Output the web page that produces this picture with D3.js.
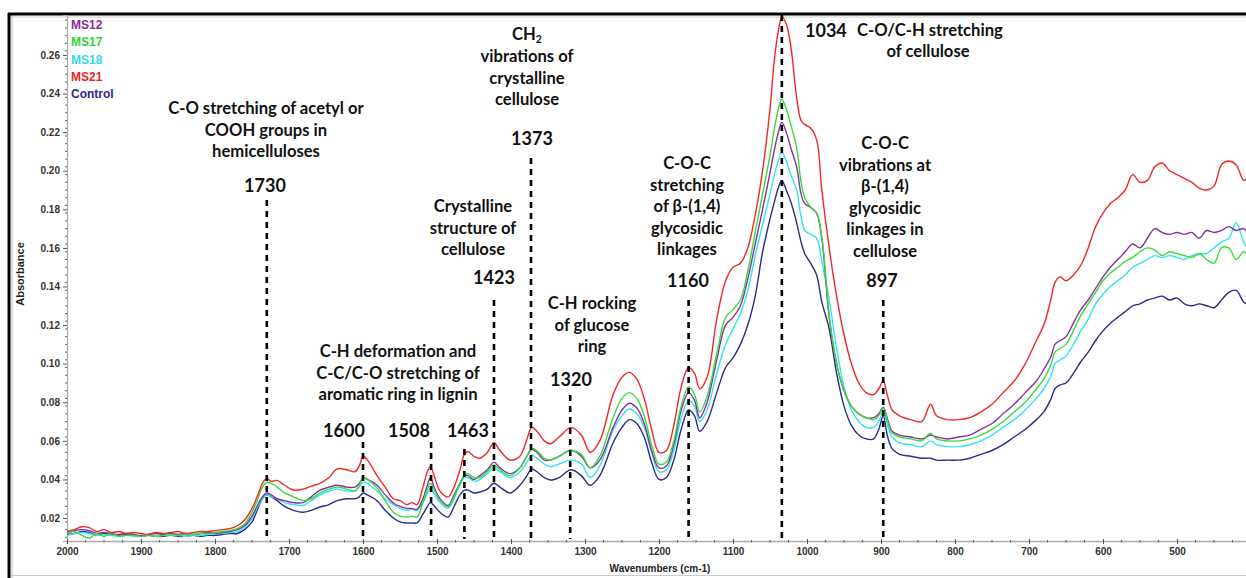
<!DOCTYPE html>
<html><head><meta charset="utf-8">
<script src="https://cdn.jsdelivr.net/npm/d3@7"></script>
<style>
html,body{margin:0;padding:0;background:#fff;overflow:hidden;}
svg{display:block;}
</style></head><body>
<svg id="chart" width="1246" height="578"></svg>
<script>
// ---------- DATA ----------
const wavenumbers = [
 2000,1990,1980,1970,1960,1950,1940,1930,1920,1910,1900,1890,1880,1870,1860,1850,1840,1830,1820,1810,1800,1790,1780,
 1770,1760,1750,1742,1736,1730,1724,1716,1706,1694,
 1681,1670,1658,1646,1635,1622,1611,1605,1600,1594,
 1581,1570,1559,1550,1541,1534,1527,1519,1513,1509,
 1503,1496,1485,1477,1469,1463,1458,1450,1442,1432,
 1423,1415,1401,1388,1380,1372,1365,1355,1347,1335,
 1319,1305,1293,1280,1262,1250,1240,1230,1220,1210,
 1200,1190,1180,1170,1160,1152,1145,1135,1122,1110,
 1100,1090,1080,1070,1060,1050,1044,1038,1034,1028,
 1022,1014,1008,1003,995,987,980,970,960,950,
 940,930,920,910,903,897,891,885,875,860,
 845,833,825,810,795,780,765,750,735,720,
 705,690,680,670,665,658,650,640,630,620,
 610,600,590,580,570,560,550,540,530,520,
 510,500,490,480,470,460,450,440,430,420,
 410,405];

const ms21 = [
 0.013,0.014,0.0155,0.015,0.013,0.014,0.0125,0.013,0.012,0.0125,0.012,0.0115,0.0125,0.012,0.0125,0.013,0.012,0.0125,0.013,0.013,0.0135,0.014,0.0145,
 0.016,0.019,0.025,0.032,0.038,0.0405,0.039,0.0395,0.037,0.0345,
 0.035,0.0365,0.038,0.041,0.0455,0.045,0.044,0.047,0.052,0.050,
 0.042,0.036,0.030,0.029,0.027,0.028,0.027,0.036,0.044,0.0465,
 0.041,0.034,0.031,0.036,0.045,0.053,0.0545,0.052,0.051,0.054,
 0.059,0.055,0.050,0.052,0.059,0.067,0.065,0.060,0.0585,0.062,
 0.067,0.063,0.054,0.060,0.084,0.093,0.0955,0.092,0.082,0.066,
 0.054,0.055,0.068,0.088,0.098,0.095,0.087,0.093,0.123,0.143,
 0.150,0.152,0.160,0.177,0.200,0.232,0.258,0.274,0.280,0.276,
 0.265,0.238,0.226,0.224,0.222,0.216,0.190,0.160,0.135,0.115,
 0.100,0.090,0.085,0.084,0.087,0.091,0.083,0.076,0.073,0.071,
 0.070,0.079,0.073,0.071,0.071,0.072,0.075,0.079,0.085,0.091,
 0.100,0.112,0.120,0.134,0.142,0.145,0.143,0.146,0.151,0.160,
 0.171,0.178,0.183,0.186,0.190,0.198,0.194,0.195,0.202,0.204,
 0.200,0.198,0.196,0.194,0.191,0.190,0.192,0.203,0.205,0.203,
 0.195,0.196];

const ms12 = [
 0.012,0.0135,0.014,0.0135,0.012,0.0125,0.012,0.0115,0.012,0.0115,0.011,0.0115,0.012,0.0115,0.012,0.0115,0.012,0.0115,0.012,0.0125,0.012,0.0125,0.013,
 0.014,0.016,0.021,0.027,0.031,0.033,0.032,0.030,0.029,0.028,
 0.028,0.031,0.0345,0.036,0.037,0.036,0.036,0.038,0.0407,0.040,
 0.037,0.032,0.0278,0.026,0.025,0.025,0.0245,0.030,0.037,0.041,
 0.035,0.030,0.0265,0.032,0.038,0.042,0.042,0.040,0.042,0.045,
 0.049,0.046,0.043,0.046,0.051,0.0555,0.054,0.050,0.050,0.052,
 0.0552,0.052,0.046,0.050,0.067,0.076,0.0795,0.077,0.069,0.055,
 0.046,0.047,0.058,0.076,0.085,0.081,0.072,0.080,0.102,0.120,
 0.124,0.130,0.144,0.162,0.180,0.199,0.211,0.221,0.225,0.220,
 0.212,0.202,0.188,0.183,0.181,0.178,0.165,0.124,0.100,0.086,
 0.078,0.074,0.072,0.072,0.074,0.0775,0.071,0.065,0.063,0.062,
 0.061,0.063,0.062,0.061,0.062,0.063,0.066,0.069,0.074,0.079,
 0.085,0.091,0.097,0.104,0.110,0.112,0.114,0.121,0.128,0.133,
 0.139,0.145,0.150,0.154,0.158,0.162,0.160,0.165,0.170,0.168,
 0.167,0.168,0.167,0.168,0.165,0.169,0.168,0.169,0.171,0.169,
 0.170,0.168];

const ms17 = [
 0.012,0.013,0.011,0.0095,0.012,0.0105,0.012,0.0105,0.011,0.011,0.0105,0.011,0.0105,0.011,0.0115,0.011,0.0115,0.0115,0.012,0.012,0.0125,0.013,0.0135,
 0.0145,0.017,0.023,0.030,0.036,0.0385,0.038,0.036,0.033,0.031,
 0.029,0.030,0.033,0.035,0.036,0.035,0.034,0.037,0.041,0.040,
 0.0355,0.029,0.023,0.021,0.0205,0.021,0.0205,0.028,0.035,0.038,
 0.034,0.029,0.0257,0.031,0.038,0.042,0.043,0.041,0.041,0.044,
 0.0475,0.045,0.042,0.046,0.051,0.056,0.055,0.051,0.050,0.052,
 0.055,0.053,0.046,0.052,0.072,0.082,0.085,0.082,0.073,0.058,
 0.048,0.049,0.060,0.078,0.088,0.084,0.075,0.083,0.105,0.124,
 0.128,0.133,0.148,0.168,0.188,0.208,0.222,0.233,0.237,0.232,
 0.224,0.212,0.194,0.186,0.181,0.178,0.166,0.125,0.100,0.086,
 0.078,0.074,0.072,0.071,0.073,0.077,0.070,0.064,0.062,0.061,
 0.060,0.064,0.061,0.060,0.060,0.061,0.063,0.066,0.070,0.075,
 0.080,0.087,0.092,0.100,0.106,0.108,0.110,0.117,0.125,0.131,
 0.137,0.143,0.147,0.150,0.153,0.155,0.158,0.160,0.159,0.156,
 0.158,0.157,0.156,0.155,0.157,0.154,0.152,0.160,0.160,0.154,
 0.158,0.156];

const ms18 = [
 0.011,0.012,0.0125,0.012,0.011,0.0115,0.011,0.0105,0.011,0.0105,0.0105,0.011,0.0105,0.011,0.011,0.011,0.0105,0.011,0.011,0.0115,0.012,0.012,0.0125,
 0.013,0.015,0.020,0.026,0.030,0.032,0.031,0.030,0.028,0.027,
 0.0265,0.029,0.032,0.034,0.035,0.034,0.034,0.036,0.0387,0.038,
 0.034,0.030,0.027,0.025,0.024,0.0245,0.024,0.028,0.033,0.0356,
 0.032,0.028,0.025,0.030,0.037,0.041,0.041,0.039,0.040,0.043,
 0.046,0.044,0.041,0.044,0.048,0.0526,0.051,0.048,0.0466,0.048,
 0.050,0.048,0.041,0.047,0.0656,0.073,0.0765,0.074,0.067,0.054,
 0.044,0.045,0.055,0.072,0.081,0.078,0.070,0.076,0.095,0.110,
 0.118,0.126,0.138,0.156,0.172,0.188,0.198,0.206,0.2096,0.205,
 0.198,0.190,0.176,0.169,0.167,0.165,0.153,0.133,0.108,0.088,
 0.076,0.070,0.067,0.067,0.070,0.075,0.068,0.062,0.059,0.058,
 0.057,0.060,0.058,0.057,0.057,0.058,0.060,0.063,0.067,0.071,
 0.076,0.082,0.087,0.094,0.100,0.102,0.104,0.110,0.117,0.123,
 0.131,0.136,0.140,0.143,0.146,0.150,0.152,0.154,0.156,0.155,
 0.156,0.155,0.154,0.156,0.157,0.157,0.160,0.163,0.165,0.173,
 0.163,0.160];

const control = [
 0.0115,0.012,0.013,0.0125,0.011,0.012,0.0115,0.011,0.0115,0.011,0.0105,0.011,0.0105,0.0105,0.011,0.0105,0.0105,0.011,0.0105,0.011,0.011,0.0115,0.012,
 0.012,0.014,0.018,0.025,0.030,0.032,0.031,0.029,0.026,0.024,
 0.023,0.024,0.0257,0.027,0.029,0.030,0.030,0.031,0.033,0.032,
 0.029,0.024,0.020,0.018,0.0174,0.0175,0.0175,0.022,0.026,0.028,
 0.026,0.023,0.0205,0.026,0.032,0.0345,0.0345,0.033,0.0335,0.035,
 0.038,0.036,0.033,0.037,0.041,0.0454,0.044,0.041,0.0397,0.041,
 0.045,0.042,0.037,0.042,0.059,0.067,0.071,0.069,0.062,0.049,
 0.040,0.041,0.050,0.066,0.076,0.073,0.065,0.070,0.085,0.098,
 0.103,0.110,0.120,0.135,0.158,0.175,0.184,0.192,0.195,0.190,
 0.184,0.173,0.163,0.157,0.152,0.146,0.132,0.118,0.095,0.078,
 0.068,0.063,0.061,0.061,0.066,0.073,0.062,0.056,0.053,0.052,
 0.051,0.051,0.050,0.050,0.050,0.051,0.053,0.055,0.058,0.062,
 0.066,0.071,0.075,0.082,0.087,0.089,0.090,0.095,0.101,0.106,
 0.112,0.117,0.121,0.124,0.127,0.130,0.131,0.133,0.134,0.135,
 0.133,0.134,0.131,0.130,0.131,0.130,0.129,0.133,0.137,0.138,
 0.132,0.131];

const seriesNames = ["MS12","MS17","MS18","MS21","Control"];
const yTickValues = [0.02,0.04,0.06,0.08,0.10,0.12,0.14,0.16,0.18,0.20,0.22,0.24,0.26];
const xTickValues = [2000,1900,1800,1700,1600,1500,1400,1300,1200,1100,1000,900,800,700,600,500];
const bandPositions = [1730,1600,1508,1463,1423,1373,1320,1160,1034,897];

// ---------- STYLE / LAYOUT ----------
const colors = {MS12:"#8a2f9e", MS17:"#38dc38", MS18:"#33e3f2", MS21:"#f02828", Control:"#2b2b8c"};
const legendColors = {MS12:"#8a2b9b", MS17:"#33d433", MS18:"#33d8ea", MS21:"#ee2222", Control:"#2a2a8a"};
const seriesValues = {MS12:ms12, MS17:ms17, MS18:ms18, MS21:ms21, Control:control};
const drawOrder = ["Control","MS18","MS12","MS17","MS21"];
const bandTop = {1730:200,1600:442,1508:442,1463:449,1423:300,1373:158,1320:395,1160:300,1034:15,897:300};

const svg = d3.select("#chart");
const L = 67, R = 1246, T = 15, B = 541;
const x = d3.scaleLinear().domain([2000, 400]).range([L, L + 1600*0.74]);
const y = d3.scaleLinear().domain([0.0081, 0.2807]).range([B, T]);

// frame
svg.append("line").attr("x1",9).attr("x2",9).attr("y1",13).attr("y2",578).attr("stroke","#000").attr("stroke-width",3);
svg.append("line").attr("x1",8).attr("x2",1246).attr("y1",14).attr("y2",14).attr("stroke","#000").attr("stroke-width",3);
svg.append("line").attr("x1",12).attr("x2",12).attr("y1",16).attr("y2",578).attr("stroke","#bbb").attr("stroke-width",1);
svg.append("line").attr("x1",11).attr("x2",1246).attr("y1",17).attr("y2",17).attr("stroke","#ccc").attr("stroke-width",1);
svg.append("line").attr("x1",11).attr("x2",1246).attr("y1",575.5).attr("y2",575.5).attr("stroke","#ccc").attr("stroke-width",1);

// y axis
const yAxis = d3.axisLeft(y).tickValues(yTickValues).tickFormat(d3.format(".2f")).tickSize(4).tickPadding(3);
const gy = svg.append("g").attr("transform",`translate(${L},0)`).call(yAxis);
gy.select(".domain").attr("stroke","#aaa").attr("stroke-width",1.2);
gy.selectAll(".tick line").attr("stroke","#555");
gy.selectAll(".tick text").attr("font-family","Arial, 'Liberation Sans', sans-serif").attr("font-weight","bold").attr("font-size","10px").attr("fill","#333");
const yMinor = d3.range(0.01, 0.28, 0.004);
gy.selectAll(".minor").data(yMinor).enter().append("line").attr("class","minor")
  .attr("x1",-2).attr("x2",0).attr("y1",d=>y(d)).attr("y2",d=>y(d)).attr("stroke","#666").attr("stroke-width",1);

// x axis
const xAxis = d3.axisBottom(x).tickValues(xTickValues).tickFormat(d3.format("d")).tickSize(3).tickPadding(4);
const gx = svg.append("g").attr("transform",`translate(0,${B})`).call(xAxis);
gx.select(".domain").attr("stroke","#aaa").attr("stroke-width",1.5);
gx.selectAll(".tick line").attr("stroke","#555").attr("y1",-2);
gx.selectAll(".tick text").attr("font-family","Arial, 'Liberation Sans', sans-serif").attr("font-weight","bold").attr("font-size","10px").attr("fill","#333");
const xMinor = d3.range(1975, 400, -25).filter(d => d % 100 !== 0);
gx.selectAll(".minor").data(xMinor).enter().append("line").attr("class","minor")
  .attr("x1",d=>x(d)).attr("x2",d=>x(d)).attr("y1",-1).attr("y2",1.5).attr("stroke","#666").attr("stroke-width",1);

// axis titles
svg.append("text").attr("transform","translate(24,274) rotate(-90)").attr("text-anchor","middle")
  .attr("font-family","Arial, 'Liberation Sans', sans-serif").attr("font-weight","bold").attr("font-size","11px").attr("fill","#222")
  .text("Absorbance");
svg.append("text").attr("x",660).attr("y",572).attr("text-anchor","middle")
  .attr("font-family","Arial, 'Liberation Sans', sans-serif").attr("font-weight","bold").attr("font-size","10px").attr("fill","#222")
  .text("Wavenumbers (cm-1)");

// clip
svg.append("clipPath").attr("id","plotclip").append("rect").attr("x",L).attr("y",T).attr("width",R-L).attr("height",B-T);

// series
const line = d3.line().x(d=>x(d[0])).y(d=>y(d[1])).curve(d3.curveCatmullRom.alpha(0.5));
const gLines = svg.append("g").attr("clip-path","url(#plotclip)");
drawOrder.forEach(name => {
  const vals = seriesValues[name];
  const pts = wavenumbers.map((w,i)=>[w, vals[i]]);
  gLines.append("path").datum(pts).attr("d",line).attr("fill","none")
    .attr("stroke",colors[name]).attr("stroke-width",1.4).attr("stroke-linejoin","round");
});

// band dashed lines
svg.append("g").selectAll("line").data(bandPositions).enter().append("line")
  .attr("x1",d=>x(d)).attr("x2",d=>x(d)).attr("y1",d=>bandTop[d]).attr("y2",539)
  .attr("stroke","#000").attr("stroke-width",2.6).attr("stroke-dasharray","6,5");

// legend
const leg = svg.append("g");
seriesNames.forEach((n,i)=>{
  leg.append("text").attr("x",71).attr("y",26+i*17.3).attr("dominant-baseline","middle")
    .attr("font-family","Arial, 'Liberation Sans', sans-serif").attr("font-weight","bold").attr("font-size","12px")
    .attr("fill",legendColors[n]).text(n);
});

// annotations
const FONT = "Lato, 'Open Sans', sans-serif";
const TXT = "16.6px";
const annotations = [
  {x:266, y:110, lines:["C-O stretching of acetyl or","COOH groups in","hemicelluloses"]},
  {x:398, y:353, lines:["C-H deformation and","C-C/C-O stretching of","aromatic ring in lignin"]},
  {x:473, y:208, lines:["Crystalline","structure of","cellulose"]},
  {x:527, y:58, lines:["vibrations of","crystalline","cellulose"]},
  {x:592, y:305, lines:["C-H rocking","of glucose","ring"]},
  {x:687, y:165, lines:["C-O-C","stretching","of β-(1,4)","glycosidic","linkages"]},
  {x:885, y:145, lines:["C-O-C","vibrations at","β-(1,4)","glycosidic","linkages in","cellulose"]},
  {x:928, y:53, lines:["of cellulose"]}
];
const numLabels = [
  {t:"1730", x:265, y:187},{t:"1600", x:344, y:432},{t:"1508", x:409, y:432},{t:"1463", x:468, y:432},
  {t:"1423", x:494, y:279},{t:"1373", x:532, y:140},{t:"1320", x:571, y:381},{t:"1160", x:688, y:282},
  {t:"897", x:882, y:282}
];
const ga = svg.append("g").attr("font-family",FONT).attr("font-weight","bold").attr("fill","#111");
annotations.forEach(a=>{
  a.lines.forEach((ln,i)=>{
    ga.append("text").attr("x",a.x).attr("y",a.y+i*21.5).attr("text-anchor","middle")
      .attr("dominant-baseline","middle").attr("font-size",TXT).text(ln);
  });
});
numLabels.forEach(n=>{
  ga.append("text").attr("x",n.x).attr("y",n.y).attr("text-anchor","middle").attr("dominant-baseline","middle")
    .attr("font-size","18px").text(n.t);
});
// CH2
const ch = ga.append("text").attr("x",527).attr("y",36).attr("text-anchor","middle").attr("dominant-baseline","middle").attr("font-size",TXT);
ch.append("tspan").text("CH");
ch.append("tspan").attr("font-size","10.5px").attr("dy",4).text("2");
// 1034 header
ga.append("text").attr("x",805).attr("y",32).attr("dominant-baseline","middle").attr("font-size","18px").text("1034");
ga.append("text").attr("x",857).attr("y",32).attr("dominant-baseline","middle").attr("font-size",TXT).text("C-O/C-H stretching");
</script>
</body></html>
